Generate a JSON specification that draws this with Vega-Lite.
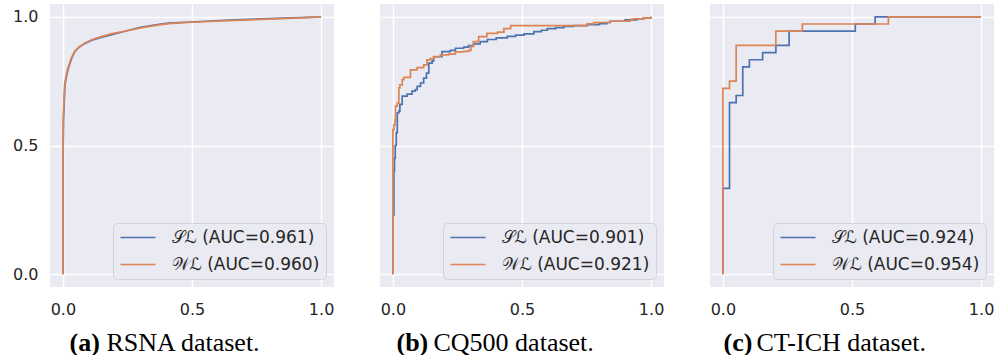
{
  "$schema": "https://vega.github.io/schema/vega-lite/v6.json",
  "padding": {"left": 12, "top": 4, "right": 0, "bottom": 0},
  "background": "white",
  "spacing": 46,
  "datasets": {
    "rsna": [
      {"model": "𝒮ℒ (AUC=0.961)", "fpr": 0, "tpr": 0},
      {"model": "𝒮ℒ (AUC=0.961)", "fpr": 0, "tpr": 0.3},
      {"model": "𝒮ℒ (AUC=0.961)", "fpr": 0.001, "tpr": 0.5},
      {"model": "𝒮ℒ (AUC=0.961)", "fpr": 0.002, "tpr": 0.6},
      {"model": "𝒮ℒ (AUC=0.961)", "fpr": 0.004, "tpr": 0.646},
      {"model": "𝒮ℒ (AUC=0.961)", "fpr": 0.008, "tpr": 0.736},
      {"model": "𝒮ℒ (AUC=0.961)", "fpr": 0.015, "tpr": 0.775},
      {"model": "𝒮ℒ (AUC=0.961)", "fpr": 0.021, "tpr": 0.8},
      {"model": "𝒮ℒ (AUC=0.961)", "fpr": 0.034, "tpr": 0.839},
      {"model": "𝒮ℒ (AUC=0.961)", "fpr": 0.046, "tpr": 0.865},
      {"model": "𝒮ℒ (AUC=0.961)", "fpr": 0.065, "tpr": 0.884},
      {"model": "𝒮ℒ (AUC=0.961)", "fpr": 0.086, "tpr": 0.897},
      {"model": "𝒮ℒ (AUC=0.961)", "fpr": 0.112, "tpr": 0.909},
      {"model": "𝒮ℒ (AUC=0.961)", "fpr": 0.152, "tpr": 0.921},
      {"model": "𝒮ℒ (AUC=0.961)", "fpr": 0.19, "tpr": 0.931},
      {"model": "𝒮ℒ (AUC=0.961)", "fpr": 0.24, "tpr": 0.944},
      {"model": "𝒮ℒ (AUC=0.961)", "fpr": 0.3, "tpr": 0.959},
      {"model": "𝒮ℒ (AUC=0.961)", "fpr": 0.366, "tpr": 0.97},
      {"model": "𝒮ℒ (AUC=0.961)", "fpr": 0.408, "tpr": 0.976},
      {"model": "𝒮ℒ (AUC=0.961)", "fpr": 0.497, "tpr": 0.98},
      {"model": "𝒮ℒ (AUC=0.961)", "fpr": 0.665, "tpr": 0.988},
      {"model": "𝒮ℒ (AUC=0.961)", "fpr": 0.793, "tpr": 0.993},
      {"model": "𝒮ℒ (AUC=0.961)", "fpr": 0.922, "tpr": 0.997},
      {"model": "𝒮ℒ (AUC=0.961)", "fpr": 1, "tpr": 1},
      {"model": "𝒲ℒ (AUC=0.960)", "fpr": 0, "tpr": 0},
      {"model": "𝒲ℒ (AUC=0.960)", "fpr": 0, "tpr": 0.3},
      {"model": "𝒲ℒ (AUC=0.960)", "fpr": 0.001, "tpr": 0.5},
      {"model": "𝒲ℒ (AUC=0.960)", "fpr": 0.002, "tpr": 0.6},
      {"model": "𝒲ℒ (AUC=0.960)", "fpr": 0.003, "tpr": 0.646},
      {"model": "𝒲ℒ (AUC=0.960)", "fpr": 0.0065, "tpr": 0.736},
      {"model": "𝒲ℒ (AUC=0.960)", "fpr": 0.013, "tpr": 0.775},
      {"model": "𝒲ℒ (AUC=0.960)", "fpr": 0.019, "tpr": 0.8},
      {"model": "𝒲ℒ (AUC=0.960)", "fpr": 0.032, "tpr": 0.839},
      {"model": "𝒲ℒ (AUC=0.960)", "fpr": 0.045, "tpr": 0.865},
      {"model": "𝒲ℒ (AUC=0.960)", "fpr": 0.064, "tpr": 0.884},
      {"model": "𝒲ℒ (AUC=0.960)", "fpr": 0.084, "tpr": 0.897},
      {"model": "𝒲ℒ (AUC=0.960)", "fpr": 0.109, "tpr": 0.91},
      {"model": "𝒲ℒ (AUC=0.960)", "fpr": 0.148, "tpr": 0.923},
      {"model": "𝒲ℒ (AUC=0.960)", "fpr": 0.186, "tpr": 0.934},
      {"model": "𝒲ℒ (AUC=0.960)", "fpr": 0.238, "tpr": 0.944},
      {"model": "𝒲ℒ (AUC=0.960)", "fpr": 0.302, "tpr": 0.957},
      {"model": "𝒲ℒ (AUC=0.960)", "fpr": 0.366, "tpr": 0.968},
      {"model": "𝒲ℒ (AUC=0.960)", "fpr": 0.408, "tpr": 0.974},
      {"model": "𝒲ℒ (AUC=0.960)", "fpr": 0.497, "tpr": 0.979},
      {"model": "𝒲ℒ (AUC=0.960)", "fpr": 0.665, "tpr": 0.986},
      {"model": "𝒲ℒ (AUC=0.960)", "fpr": 0.793, "tpr": 0.991},
      {"model": "𝒲ℒ (AUC=0.960)", "fpr": 0.922, "tpr": 0.996},
      {"model": "𝒲ℒ (AUC=0.960)", "fpr": 1, "tpr": 1}
    ],
    "cq500": [
      {"model": "𝒮ℒ (AUC=0.901)", "fpr": 0, "tpr": 0},
      {"model": "𝒮ℒ (AUC=0.901)", "fpr": 0, "tpr": 0.23},
      {"model": "𝒮ℒ (AUC=0.901)", "fpr": 0.004, "tpr": 0.4},
      {"model": "𝒮ℒ (AUC=0.901)", "fpr": 0.006, "tpr": 0.45},
      {"model": "𝒮ℒ (AUC=0.901)", "fpr": 0.009, "tpr": 0.5},
      {"model": "𝒮ℒ (AUC=0.901)", "fpr": 0.013, "tpr": 0.55},
      {"model": "𝒮ℒ (AUC=0.901)", "fpr": 0.017, "tpr": 0.627},
      {"model": "𝒮ℒ (AUC=0.901)", "fpr": 0.023, "tpr": 0.634},
      {"model": "𝒮ℒ (AUC=0.901)", "fpr": 0.027, "tpr": 0.66},
      {"model": "𝒮ℒ (AUC=0.901)", "fpr": 0.036, "tpr": 0.692},
      {"model": "𝒮ℒ (AUC=0.901)", "fpr": 0.055, "tpr": 0.7},
      {"model": "𝒮ℒ (AUC=0.901)", "fpr": 0.074, "tpr": 0.711},
      {"model": "𝒮ℒ (AUC=0.901)", "fpr": 0.087, "tpr": 0.717},
      {"model": "𝒮ℒ (AUC=0.901)", "fpr": 0.094, "tpr": 0.73},
      {"model": "𝒮ℒ (AUC=0.901)", "fpr": 0.107, "tpr": 0.743},
      {"model": "𝒮ℒ (AUC=0.901)", "fpr": 0.119, "tpr": 0.762},
      {"model": "𝒮ℒ (AUC=0.901)", "fpr": 0.13, "tpr": 0.781},
      {"model": "𝒮ℒ (AUC=0.901)", "fpr": 0.139, "tpr": 0.82},
      {"model": "𝒮ℒ (AUC=0.901)", "fpr": 0.152, "tpr": 0.829},
      {"model": "𝒮ℒ (AUC=0.901)", "fpr": 0.158, "tpr": 0.845},
      {"model": "𝒮ℒ (AUC=0.901)", "fpr": 0.19, "tpr": 0.865},
      {"model": "𝒮ℒ (AUC=0.901)", "fpr": 0.222, "tpr": 0.87},
      {"model": "𝒮ℒ (AUC=0.901)", "fpr": 0.242, "tpr": 0.878},
      {"model": "𝒮ℒ (AUC=0.901)", "fpr": 0.274, "tpr": 0.882},
      {"model": "𝒮ℒ (AUC=0.901)", "fpr": 0.293, "tpr": 0.888},
      {"model": "𝒮ℒ (AUC=0.901)", "fpr": 0.312, "tpr": 0.895},
      {"model": "𝒮ℒ (AUC=0.901)", "fpr": 0.338, "tpr": 0.904},
      {"model": "𝒮ℒ (AUC=0.901)", "fpr": 0.366, "tpr": 0.912},
      {"model": "𝒮ℒ (AUC=0.901)", "fpr": 0.4, "tpr": 0.918},
      {"model": "𝒮ℒ (AUC=0.901)", "fpr": 0.443, "tpr": 0.924},
      {"model": "𝒮ℒ (AUC=0.901)", "fpr": 0.475, "tpr": 0.929},
      {"model": "𝒮ℒ (AUC=0.901)", "fpr": 0.508, "tpr": 0.934},
      {"model": "𝒮ℒ (AUC=0.901)", "fpr": 0.546, "tpr": 0.943},
      {"model": "𝒮ℒ (AUC=0.901)", "fpr": 0.575, "tpr": 0.948},
      {"model": "𝒮ℒ (AUC=0.901)", "fpr": 0.598, "tpr": 0.954},
      {"model": "𝒮ℒ (AUC=0.901)", "fpr": 0.63, "tpr": 0.958},
      {"model": "𝒮ℒ (AUC=0.901)", "fpr": 0.662, "tpr": 0.963},
      {"model": "𝒮ℒ (AUC=0.901)", "fpr": 0.7, "tpr": 0.966},
      {"model": "𝒮ℒ (AUC=0.901)", "fpr": 0.752, "tpr": 0.97},
      {"model": "𝒮ℒ (AUC=0.901)", "fpr": 0.8, "tpr": 0.974},
      {"model": "𝒮ℒ (AUC=0.901)", "fpr": 0.829, "tpr": 0.978},
      {"model": "𝒮ℒ (AUC=0.901)", "fpr": 0.842, "tpr": 0.983},
      {"model": "𝒮ℒ (AUC=0.901)", "fpr": 0.9, "tpr": 0.988},
      {"model": "𝒮ℒ (AUC=0.901)", "fpr": 0.945, "tpr": 0.992},
      {"model": "𝒮ℒ (AUC=0.901)", "fpr": 0.97, "tpr": 0.996},
      {"model": "𝒮ℒ (AUC=0.901)", "fpr": 1, "tpr": 1},
      {"model": "𝒲ℒ (AUC=0.921)", "fpr": 0, "tpr": 0},
      {"model": "𝒲ℒ (AUC=0.921)", "fpr": 0, "tpr": 0.562},
      {"model": "𝒲ℒ (AUC=0.921)", "fpr": 0.004, "tpr": 0.58},
      {"model": "𝒲ℒ (AUC=0.921)", "fpr": 0.008, "tpr": 0.6},
      {"model": "𝒲ℒ (AUC=0.921)", "fpr": 0.01, "tpr": 0.653},
      {"model": "𝒲ℒ (AUC=0.921)", "fpr": 0.017, "tpr": 0.665},
      {"model": "𝒲ℒ (AUC=0.921)", "fpr": 0.023, "tpr": 0.724},
      {"model": "𝒲ℒ (AUC=0.921)", "fpr": 0.027, "tpr": 0.736},
      {"model": "𝒲ℒ (AUC=0.921)", "fpr": 0.036, "tpr": 0.756},
      {"model": "𝒲ℒ (AUC=0.921)", "fpr": 0.042, "tpr": 0.765},
      {"model": "𝒲ℒ (AUC=0.921)", "fpr": 0.068, "tpr": 0.794},
      {"model": "𝒲ℒ (AUC=0.921)", "fpr": 0.094, "tpr": 0.803},
      {"model": "𝒲ℒ (AUC=0.921)", "fpr": 0.119, "tpr": 0.813},
      {"model": "𝒲ℒ (AUC=0.921)", "fpr": 0.132, "tpr": 0.833},
      {"model": "𝒲ℒ (AUC=0.921)", "fpr": 0.145, "tpr": 0.838},
      {"model": "𝒲ℒ (AUC=0.921)", "fpr": 0.158, "tpr": 0.846},
      {"model": "𝒲ℒ (AUC=0.921)", "fpr": 0.184, "tpr": 0.852},
      {"model": "𝒲ℒ (AUC=0.921)", "fpr": 0.216, "tpr": 0.855},
      {"model": "𝒲ℒ (AUC=0.921)", "fpr": 0.242, "tpr": 0.864},
      {"model": "𝒲ℒ (AUC=0.921)", "fpr": 0.274, "tpr": 0.866},
      {"model": "𝒲ℒ (AUC=0.921)", "fpr": 0.293, "tpr": 0.87},
      {"model": "𝒲ℒ (AUC=0.921)", "fpr": 0.302, "tpr": 0.885},
      {"model": "𝒲ℒ (AUC=0.921)", "fpr": 0.312, "tpr": 0.904},
      {"model": "𝒲ℒ (AUC=0.921)", "fpr": 0.332, "tpr": 0.923},
      {"model": "𝒲ℒ (AUC=0.921)", "fpr": 0.364, "tpr": 0.936},
      {"model": "𝒲ℒ (AUC=0.921)", "fpr": 0.405, "tpr": 0.941},
      {"model": "𝒲ℒ (AUC=0.921)", "fpr": 0.43, "tpr": 0.954},
      {"model": "𝒲ℒ (AUC=0.921)", "fpr": 0.456, "tpr": 0.966},
      {"model": "𝒲ℒ (AUC=0.921)", "fpr": 0.752, "tpr": 0.973},
      {"model": "𝒲ℒ (AUC=0.921)", "fpr": 0.778, "tpr": 0.978},
      {"model": "𝒲ℒ (AUC=0.921)", "fpr": 0.842, "tpr": 0.983},
      {"model": "𝒲ℒ (AUC=0.921)", "fpr": 0.919, "tpr": 0.99},
      {"model": "𝒲ℒ (AUC=0.921)", "fpr": 0.932, "tpr": 0.992},
      {"model": "𝒲ℒ (AUC=0.921)", "fpr": 0.97, "tpr": 0.996},
      {"model": "𝒲ℒ (AUC=0.921)", "fpr": 1, "tpr": 1}
    ],
    "ctich": [
      {"model": "𝒮ℒ (AUC=0.924)", "fpr": 0, "tpr": 0},
      {"model": "𝒮ℒ (AUC=0.924)", "fpr": 0, "tpr": 0.3333},
      {"model": "𝒮ℒ (AUC=0.924)", "fpr": 0.0256, "tpr": 0.6667},
      {"model": "𝒮ℒ (AUC=0.924)", "fpr": 0.0513, "tpr": 0.6944},
      {"model": "𝒮ℒ (AUC=0.924)", "fpr": 0.0769, "tpr": 0.8056},
      {"model": "𝒮ℒ (AUC=0.924)", "fpr": 0.1026, "tpr": 0.8333},
      {"model": "𝒮ℒ (AUC=0.924)", "fpr": 0.1538, "tpr": 0.8611},
      {"model": "𝒮ℒ (AUC=0.924)", "fpr": 0.2051, "tpr": 0.8889},
      {"model": "𝒮ℒ (AUC=0.924)", "fpr": 0.2564, "tpr": 0.9444},
      {"model": "𝒮ℒ (AUC=0.924)", "fpr": 0.5128, "tpr": 0.9722},
      {"model": "𝒮ℒ (AUC=0.924)", "fpr": 0.5897, "tpr": 1},
      {"model": "𝒮ℒ (AUC=0.924)", "fpr": 1, "tpr": 1},
      {"model": "𝒲ℒ (AUC=0.954)", "fpr": 0, "tpr": 0},
      {"model": "𝒲ℒ (AUC=0.954)", "fpr": 0, "tpr": 0.7222},
      {"model": "𝒲ℒ (AUC=0.954)", "fpr": 0.0256, "tpr": 0.75},
      {"model": "𝒲ℒ (AUC=0.954)", "fpr": 0.0513, "tpr": 0.8889},
      {"model": "𝒲ℒ (AUC=0.954)", "fpr": 0.2051, "tpr": 0.9444},
      {"model": "𝒲ℒ (AUC=0.954)", "fpr": 0.3077, "tpr": 0.9722},
      {"model": "𝒲ℒ (AUC=0.954)", "fpr": 0.641, "tpr": 1},
      {"model": "𝒲ℒ (AUC=0.954)", "fpr": 1, "tpr": 1}
    ]
  },
  "hconcat": [
    {
      "width": 284, "height": 283,
      "data": {"name": "rsna"},
      "mark": {"type": "line", "strokeWidth": 1.7, "interpolate": "linear", "clip": true},
      "encoding": {
        "x": {"field": "fpr", "type": "quantitative", "scale": {"domain": [-0.05, 1.05], "nice": false, "zero": false},
              "axis": {"values": [0, 0.5, 1], "format": ".1f", "title": "RSNA dataset.", "titleX": 56, "titleY": 63}},
        "y": {"field": "tpr", "type": "quantitative", "scale": {"domain": [-0.05, 1.05], "nice": false, "zero": false},
              "axis": {"values": [0, 0.5, 1], "format": ".1f", "title": "(a)", "titleX": 19, "titleY": 346}},
        "color": {"field": "model", "type": "nominal", "scale": {"domain": ["𝒮ℒ (AUC=0.961)", "𝒲ℒ (AUC=0.960)"], "range": ["#4c72b0", "#dd8452"]}, "legend": {"title": null}},
        "order": {"value": null}
      }
    },
    {
      "width": 284, "height": 283,
      "data": {"name": "cq500"},
      "mark": {"type": "line", "strokeWidth": 1.7, "interpolate": "step-after", "clip": true},
      "encoding": {
        "x": {"field": "fpr", "type": "quantitative", "scale": {"domain": [-0.05, 1.05], "nice": false, "zero": false},
              "axis": {"values": [0, 0.5, 1], "format": ".1f", "title": "CQ500 dataset.", "titleX": 53, "titleY": 63}},
        "y": {"field": "tpr", "type": "quantitative", "scale": {"domain": [-0.05, 1.05], "nice": false, "zero": false},
              "axis": {"values": [0, 0.5, 1], "labels": false, "title": "(b)", "titleX": 16, "titleY": 346}},
        "color": {"field": "model", "type": "nominal", "scale": {"domain": ["𝒮ℒ (AUC=0.901)", "𝒲ℒ (AUC=0.921)"], "range": ["#4c72b0", "#dd8452"]}, "legend": {"title": null}},
        "order": {"value": null}
      }
    },
    {
      "width": 284, "height": 283,
      "data": {"name": "ctich"},
      "mark": {"type": "line", "strokeWidth": 1.7, "interpolate": "step-after", "clip": true},
      "encoding": {
        "x": {"field": "fpr", "type": "quantitative", "scale": {"domain": [-0.05, 1.05], "nice": false, "zero": false},
              "axis": {"values": [0, 0.5, 1], "format": ".1f", "title": "CT-ICH dataset.", "titleX": 46, "titleY": 63}},
        "y": {"field": "tpr", "type": "quantitative", "scale": {"domain": [-0.05, 1.05], "nice": false, "zero": false},
              "axis": {"values": [0, 0.5, 1], "labels": false, "title": "(c)", "titleX": 13, "titleY": 346}},
        "color": {"field": "model", "type": "nominal", "scale": {"domain": ["𝒮ℒ (AUC=0.924)", "𝒲ℒ (AUC=0.954)"], "range": ["#4c72b0", "#dd8452"]}, "legend": {"title": null}},
        "order": {"value": null}
      }
    }
  ],
  "resolve": {"scale": {"color": "independent", "x": "independent", "y": "independent"}, "legend": {"color": "independent"}},
  "config": {
    "view": {"fill": "#eaeaf2", "stroke": null},
    "axis": {
      "domain": false, "ticks": false,
      "grid": true, "gridColor": "#ffffff", "gridWidth": 1.5,
      "labelFont": "DejaVu Sans", "labelFontSize": 16, "labelColor": "#262626",
      "titleFont": "Liberation Serif", "titleFontSize": 26, "titleColor": "#000000",
      "titleFontWeight": "normal", "titleAlign": "left", "titleBaseline": "alphabetic", "titleAngle": 0
    },
    "axisX": {"labelPadding": 14, "labelAngle": 0},
    "axisY": {"labelPadding": 12, "titleFontWeight": "bold", "titleAngle": 0},
    "legend": {
      "orient": "bottom-right", "offset": 8, "padding": 6,
      "fillColor": "#eaeaf2", "strokeColor": "#d2d2da", "strokeWidth": 1, "cornerRadius": 4,
      "symbolType": "M-2.5,0H2.5", "symbolSize": 196, "symbolStrokeWidth": 1.7, "symbolOffset": 10.5,
      "labelFont": "DejaVu Sans", "labelFontSize": 17, "labelColor": "#262626", "labelLimit": 0,
      "labelOffset": 25, "rowPadding": 9
    }
  }
}
